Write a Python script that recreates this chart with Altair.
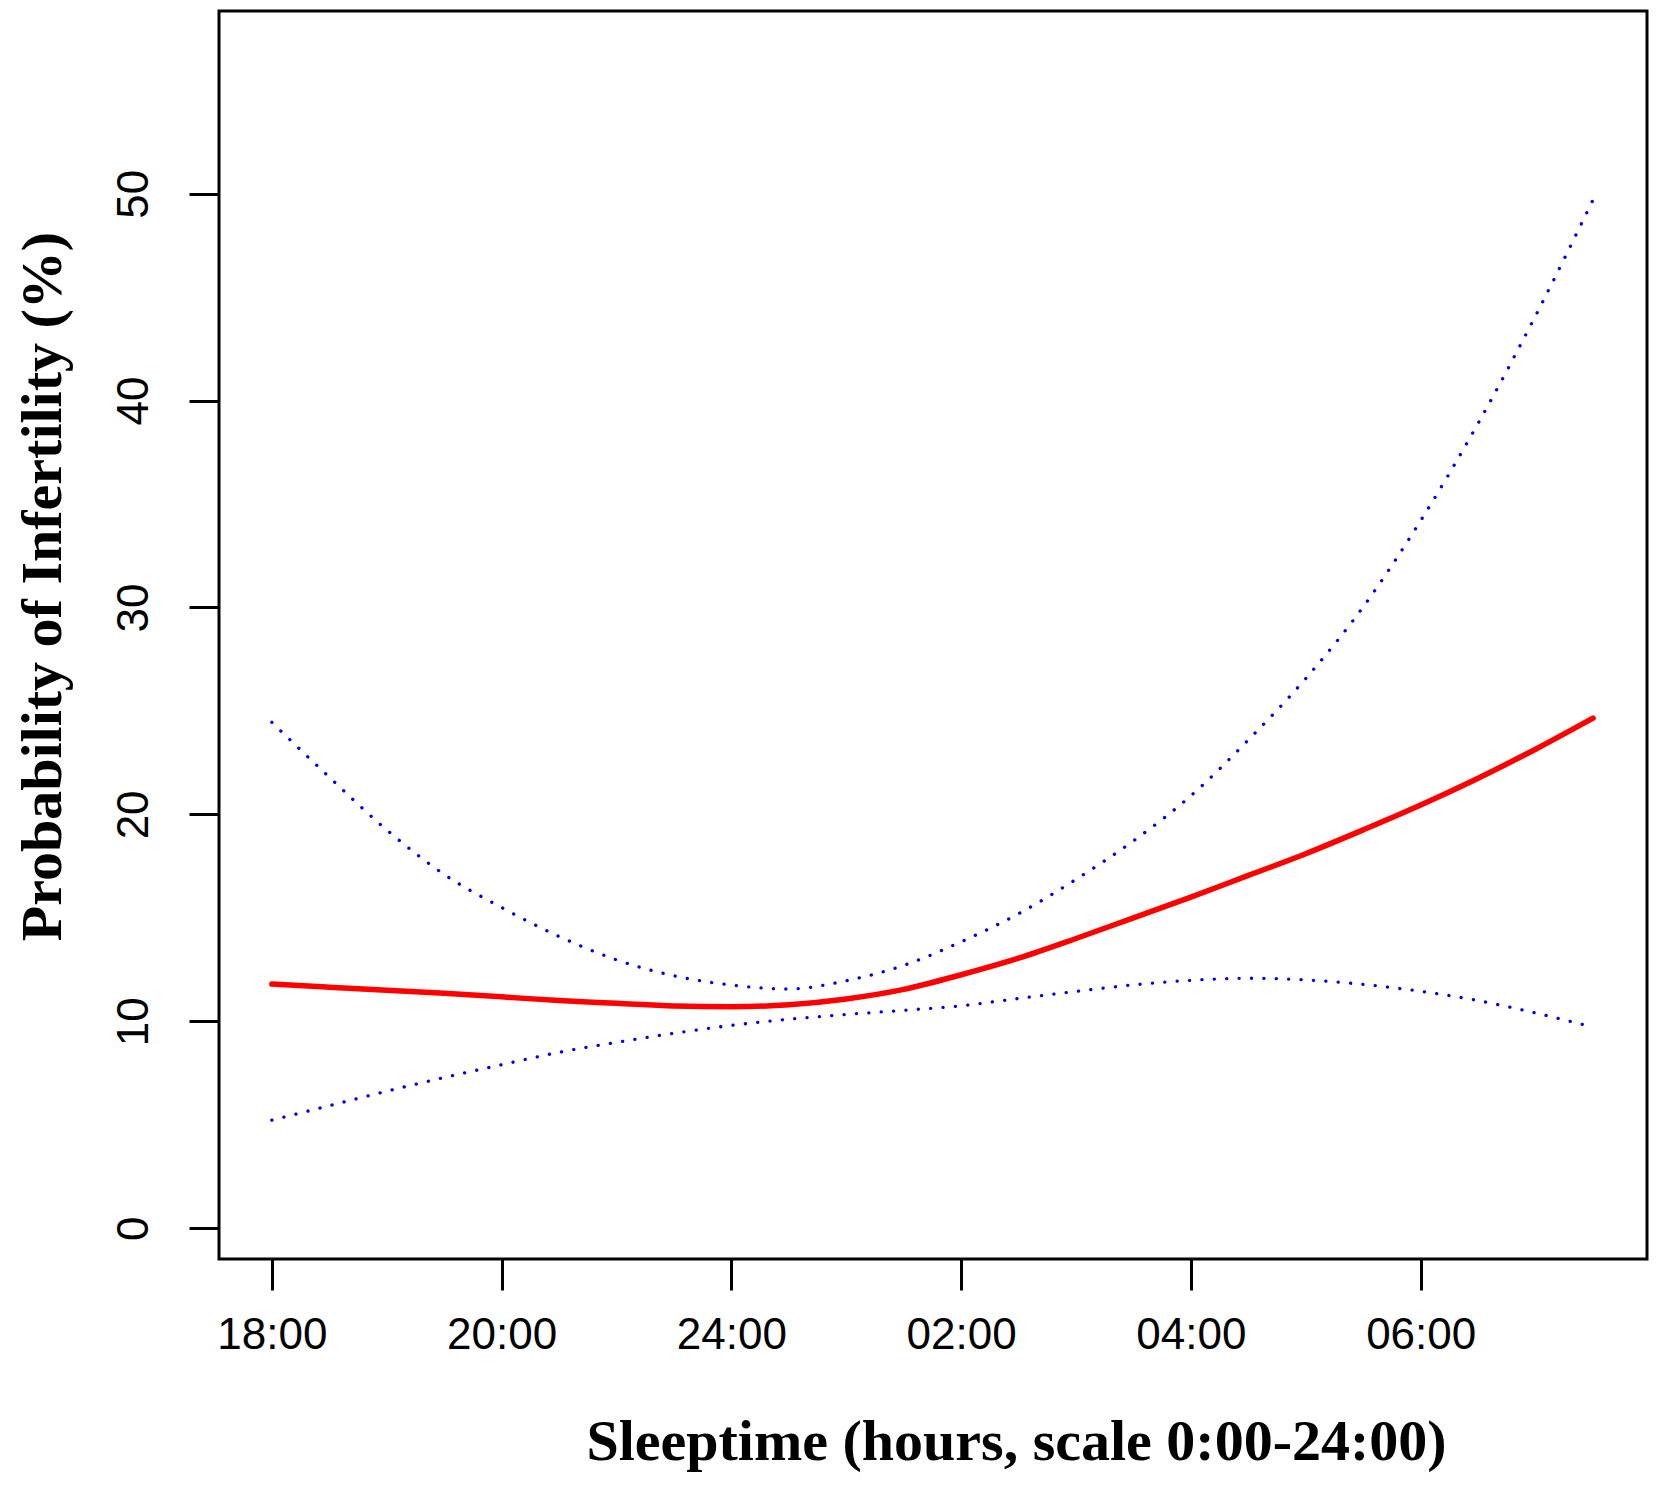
import altair as alt
import pandas as pd

# ---- data ----
hours = [18.0, 18.5, 19.0, 19.5, 20.0, 20.5, 21.0, 21.5, 22.0, 22.5, 23.0, 23.5,
         24.0, 24.5, 25.0, 25.5, 26.0, 26.5, 27.0, 27.5, 28.0, 28.5, 29.0, 29.5]
fit = [11.80, 11.65, 11.50, 11.35, 11.18, 11.00, 10.87, 10.74, 10.70, 10.80, 11.08, 11.54,
       12.25, 13.05, 14.00, 15.00, 16.00, 17.05, 18.10, 19.25, 20.45, 21.75, 23.15, 24.65]
upper = [24.45, 21.80, 19.25, 17.10, 15.50, 14.10, 12.97, 12.20, 11.75, 11.56, 11.96, 12.70,
         13.84, 15.20, 16.86, 18.72, 20.90, 23.60, 26.57, 30.03, 34.20, 38.90, 44.10, 49.70]
lower = [5.22, 5.92, 6.62, 7.28, 7.90, 8.50, 8.98, 9.42, 9.80, 10.10, 10.33, 10.53,
         10.75, 11.10, 11.44, 11.76, 11.98, 12.08, 12.00, 11.78, 11.45, 11.00, 10.40, 9.72]

x_tick_values = [18, 20, 22, 24, 26, 28]
x_tick_labels = ["18:00", "20:00", "24:00", "02:00", "04:00", "06:00"]
y_tick_values = [0, 10, 20, 30, 40, 50]

x_title = "Sleeptime (hours, scale 0:00-24:00)"
y_title = "Probability of Infertility (%)"

df = pd.DataFrame({"hour": hours, "fit": fit, "upper": upper, "lower": lower})

label_expr = ""
for v, l in zip(x_tick_values, x_tick_labels):
    label_expr += f"datum.value == {v} ? '{l}' : "
label_expr += "''"

x_scale = alt.Scale(domain=[17.54, 29.97], nice=False, zero=False)
y_scale = alt.Scale(domain=[-1.49, 58.83], nice=False, zero=False)

x_axis = alt.Axis(
    values=x_tick_values, labelExpr=label_expr, grid=False, domain=False,
    ticks=True, tickSize=31, tickWidth=3, tickColor="black",
    labelFont="Liberation Sans", labelFontSize=44, labelColor="black",
    labelBaseline="alphabetic", labelPadding=58, labelFlush=False,
    labelOverlap=False, labelBound=False,
    title=x_title, titleFont="Liberation Serif", titleFontWeight="bold",
    titleFontSize=58, titleColor="black", titleAlign="center",
    titleBaseline="alphabetic", titleX=797, titleY=200,
)
y_axis = alt.Axis(
    values=y_tick_values, grid=False, domain=False,
    ticks=True, tickSize=30, tickWidth=3, tickColor="black",
    labelFont="Liberation Sans", labelFontSize=44, labelColor="black",
    labelAngle=270, labelAlign="center", labelBaseline="alphabetic",
    labelPadding=42, labelFlush=False, labelOverlap=False, labelBound=False,
    title=y_title, titleFont="Liberation Serif", titleFontWeight="bold",
    titleFontSize=58, titleColor="black", titleAngle=270, titleAlign="center",
    titleBaseline="alphabetic", titleX=-159, titleY=575,
)

base = alt.Chart(df)

fit_line = base.mark_line(color="#ff0000", strokeWidth=5.5, interpolate="monotone",
                          strokeCap="round").encode(
    x=alt.X("hour:Q", scale=x_scale, axis=x_axis),
    y=alt.Y("fit:Q", scale=y_scale, axis=y_axis),
)
upper_line = base.mark_line(color="#0000e6", strokeWidth=3.3, strokeDash=[0.1, 12.3],
                            strokeCap="round", interpolate="monotone").encode(
    x=alt.X("hour:Q", scale=x_scale),
    y=alt.Y("upper:Q", scale=y_scale),
)
lower_line = base.mark_line(color="#0000e6", strokeWidth=3.3, strokeDash=[0.1, 12.3],
                            strokeCap="round", interpolate="monotone").encode(
    x=alt.X("hour:Q", scale=x_scale),
    y=alt.Y("lower:Q", scale=y_scale),
)

chart = alt.layer(upper_line, lower_line, fit_line).properties(
    width=1428, height=1248,
    autosize=alt.AutoSizeParams(type="none"),
    padding={"left": 211, "top": 3, "right": 3, "bottom": 220},
    background="white",
).configure_view(stroke="black", strokeWidth=3)

chart.save("out.html", embed_options={"renderer": "svg", "actions": False})
